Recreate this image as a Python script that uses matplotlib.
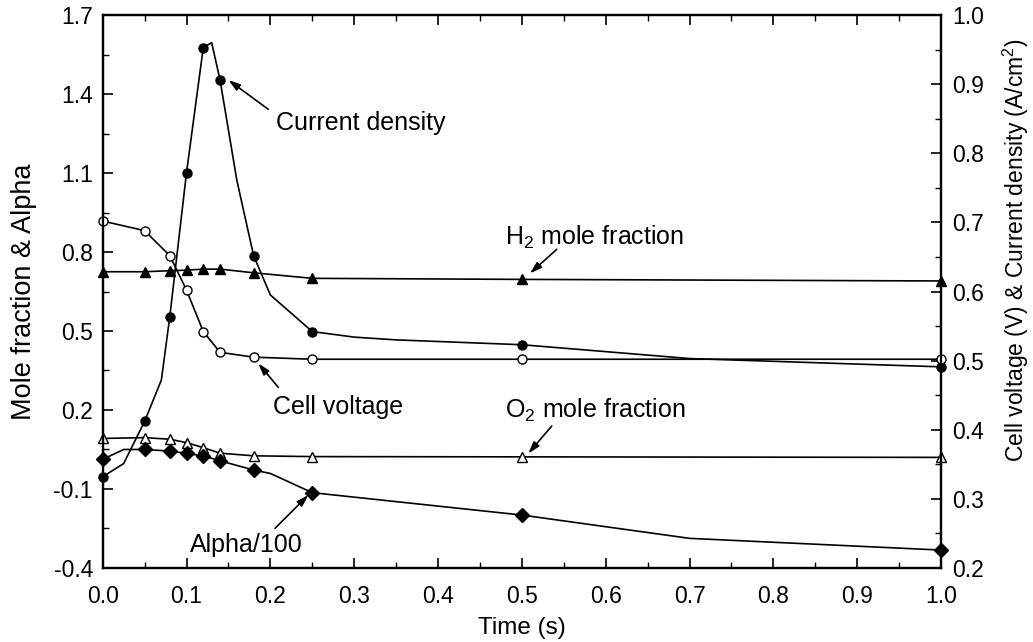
import matplotlib

matplotlib.use("Agg")
import matplotlib.pyplot as plt

plt.rcParams["font.family"] = ["Liberation Sans", "DejaVu Sans"]
plt.rcParams["mathtext.fontset"] = "custom"
plt.rcParams["mathtext.rm"] = "Liberation Sans"

# Current density (A/cm2), right axis; markers only at the sampled points
time_cd = [0.0, 0.025, 0.05, 0.07, 0.08, 0.10, 0.12, 0.13, 0.14, 0.16, 0.18, 0.20, 0.25, 0.30, 0.35, 0.50, 0.70, 1.00]
current_density = [0.332, 0.351, 0.412, 0.472, 0.563, 0.772, 0.953, 0.960, 0.906, 0.761, 0.652, 0.595, 0.542, 0.534, 0.530, 0.523, 0.503, 0.491]
cd_marked = [0, 2, 4, 5, 6, 8, 10, 12, 15, 17]

# Cell voltage (V), right axis
time_cv = [0.0, 0.05, 0.08, 0.10, 0.12, 0.14, 0.18, 0.25, 0.50, 1.00]
cell_voltage = [0.702, 0.688, 0.652, 0.602, 0.542, 0.512, 0.505, 0.502, 0.502, 0.502]

# H2 / O2 mole fraction, left axis
time_mf = [0.0, 0.05, 0.08, 0.10, 0.12, 0.14, 0.18, 0.25, 0.50, 1.00]
h2_fraction = [0.725, 0.725, 0.729, 0.731, 0.735, 0.735, 0.721, 0.700, 0.696, 0.690]
o2_fraction = [0.092, 0.095, 0.089, 0.076, 0.057, 0.036, 0.026, 0.023, 0.022, 0.020]

# Alpha/100, left axis
time_alpha = [0.0, 0.025, 0.05, 0.08, 0.10, 0.12, 0.14, 0.18, 0.20, 0.25, 0.50, 0.70, 1.00]
alpha_100 = [0.0125, 0.05, 0.05, 0.044, 0.035, 0.026, 0.007, -0.028, -0.041, -0.114, -0.199, -0.2875, -0.332]
alpha_marked = [0, 2, 3, 4, 5, 6, 7, 9, 10, 12]

left_ticks = [-0.4, -0.1, 0.2, 0.5, 0.8, 1.1, 1.4, 1.7]
right_ticks = [0.2, 0.3, 0.4, 0.5, 0.6, 0.7, 0.8, 0.9, 1.0]
x_ticks = [0.0, 0.1, 0.2, 0.3, 0.4, 0.5, 0.6, 0.7, 0.8, 0.9, 1.0]

# label text, text anchor (left, centre) and arrow tail/tip, in left-axis data units
notes = [
    ("Current density", (0.207, 1.290), (0.1975, 1.342), (0.150, 1.453)),
    ("H$_2$ mole fraction", (0.480, 0.857), (0.5416, 0.810), (0.5097, 0.719)),
    ("Cell voltage", (0.2035, 0.212), (0.2095, 0.286), (0.1856, 0.377)),
    ("O$_2$ mole fraction", (0.480, 0.200), (0.5356, 0.139), (0.5077, 0.035)),
    ("Alpha/100", (0.1041, -0.313), (0.2055, -0.2495), (0.2453, -0.123)),
]

TICK_FS = 16.5
NOTE_FS = 18
fig = plt.figure(figsize=(10.33, 6.42), dpi=100)
ax = fig.add_axes([0.0994, 0.1153, 0.8116, 0.8613])
ax2 = ax.twinx()

line_kw = dict(color="black", linewidth=1.2, markeredgewidth=1.0, markeredgecolor="black")
ax.plot(time_mf, h2_fraction, marker="^", markersize=7.5, markerfacecolor="black", **line_kw)
ax.plot(time_mf, o2_fraction, marker="^", markersize=7.5, markerfacecolor="white", **line_kw)
ax.plot(time_alpha, alpha_100, marker="D", markersize=6.8, markevery=alpha_marked,
        markerfacecolor="black", **line_kw)
ax2.plot(time_cd, current_density, marker="o", markersize=6.5, markevery=cd_marked,
         markerfacecolor="black", **line_kw)
ax2.plot(time_cv, cell_voltage, marker="o", markersize=6.5, markerfacecolor="white", **line_kw)
for a in (ax, ax2):
    for ln in a.lines:
        ln.set_clip_on(False)

ax.set_xlim(0, 1)
ax.set_ylim(-0.4, 1.7)
ax2.set_ylim(0.2, 1.0)
ax.set_xticks(x_ticks)
ax.set_xticklabels([f"{v:.1f}" for v in x_ticks])
ax.set_xticks([v + 0.05 for v in x_ticks[:-1]], minor=True)
ax.set_yticks(left_ticks)
ax.set_yticklabels([f"{v:.1f}" for v in left_ticks])
ax.set_yticks([v + 0.15 for v in left_ticks[:-1]], minor=True)
ax2.set_yticks(right_ticks)
ax2.set_yticklabels([f"{v:.1f}" for v in right_ticks])
ax2.set_yticks([v + 0.05 for v in right_ticks[:-1]], minor=True)

ax.tick_params(axis="x", which="both", direction="in", top=True, labelsize=TICK_FS, pad=12)
ax.tick_params(axis="y", which="both", direction="in", right=False, labelsize=TICK_FS, pad=7)
ax2.tick_params(axis="y", which="both", direction="in", labelsize=TICK_FS, pad=8)
for a in (ax, ax2):
    a.tick_params(which="major", length=7, width=1.2)
    a.tick_params(which="minor", length=4.5, width=1.0)
    for sp in a.spines.values():
        sp.set_linewidth(1.6)

ax.set_xlabel("Time (s)", fontsize=17.5, labelpad=7)
ax.set_ylabel("Mole fraction & Alpha", fontsize=19.5)
ax.yaxis.set_label_coords(-0.078, 0.5)
ax2.set_ylabel("Cell voltage (V) & Current density (A/cm$^2$)", fontsize=16.5)
ax2.yaxis.set_label_coords(1.071, 0.575)

for label, text_xy, tail, tip in notes:
    ax.text(text_xy[0], text_xy[1], label, fontsize=NOTE_FS, ha="left", va="center")
    ax.annotate("", xy=tip, xytext=tail,
                arrowprops=dict(arrowstyle="-|>,head_length=0.7,head_width=0.22", color="black",
                                linewidth=1.2, shrinkA=0, shrinkB=0))

fig.savefig("out.png", dpi=100)
plt.close(fig)
